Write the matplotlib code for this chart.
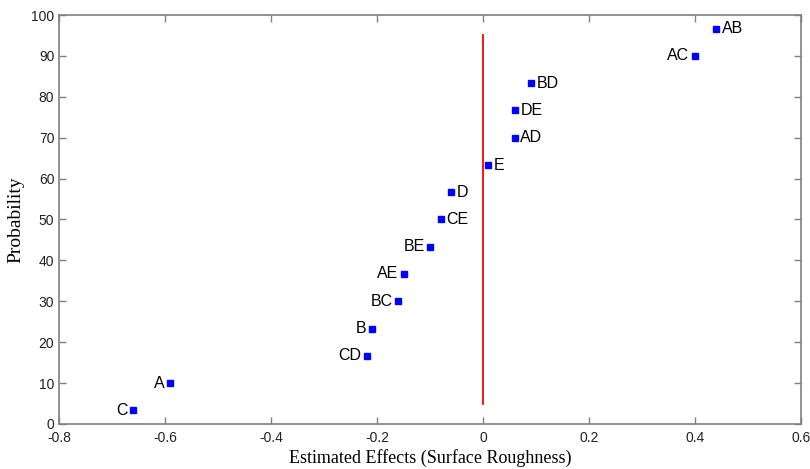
import matplotlib
matplotlib.use("Agg")
import matplotlib.pyplot as plt

# effect estimates and their normal probability positions
labels = ["C", "A", "CD", "B", "BC", "AE", "BE", "CE", "D", "E", "AD", "DE", "BD", "AC", "AB"]
effects = [-0.66, -0.59, -0.22, -0.21, -0.16, -0.15, -0.10, -0.08, -0.06, 0.01, 0.06, 0.061, 0.09, 0.40, 0.44]
probability = [3.3, 10.0, 16.7, 23.3, 30.0, 36.7, 43.3, 50.0, 56.7, 63.3, 70.0, 76.7, 83.3, 90.0, 96.7]
label_side = ["L", "L", "L", "L", "L", "L", "L", "R", "R", "R", "R", "R", "R", "L", "R"]

ref_x = [0, 0]
ref_y = [5, 95]

C_SPINE = "#808080"

fig = plt.figure(figsize=(8.1, 4.69), dpi=100)
ax = fig.add_axes([0.073, 0.096, 0.916, 0.872])

ax.plot(ref_x, ref_y, color="red", lw=1.3)
ax.plot(effects, probability, "s", color="blue", markersize=4.5, linestyle="none")

for lab, x, y, side in zip(labels, effects, probability, label_side):
    if side == "L":
        ax.annotate(lab, (x, y), xytext=(-4, 0), textcoords="offset points",
                    ha="right", va="center", fontsize=11.5, family="Liberation Sans")
    else:
        ax.annotate(lab, (x, y), xytext=(4, 0), textcoords="offset points",
                    ha="left", va="center", fontsize=11.5, family="Liberation Sans")

ax.set_xlim(-0.8, 0.6)
ax.set_ylim(0, 100)
ax.set_xticks([-0.8, -0.6, -0.4, -0.2, 0, 0.2, 0.4, 0.6])
ax.set_xticklabels(["-0.8", "-0.6", "-0.4", "-0.2", "0", "0.2", "0.4", "0.6"])
ax.set_yticks(range(0, 101, 10))

for s in ax.spines.values():
    s.set_color(C_SPINE)
    s.set_linewidth(1.2)
ax.tick_params(direction="in", length=5, color=C_SPINE, width=1,
               top=True, right=True, labelsize=10)
ax.tick_params(axis="x", pad=5)
for t in ax.get_xticklabels() + ax.get_yticklabels():
    t.set_family("Liberation Sans")
    t.set_color("#222222")

ax.set_xlabel("Estimated Effects (Surface Roughness)", family="Liberation Serif",
              fontsize=13, labelpad=3)
ax.set_ylabel("Probability", family="Liberation Serif", fontsize=14, labelpad=5)

fig.savefig("out.png", dpi=100)
